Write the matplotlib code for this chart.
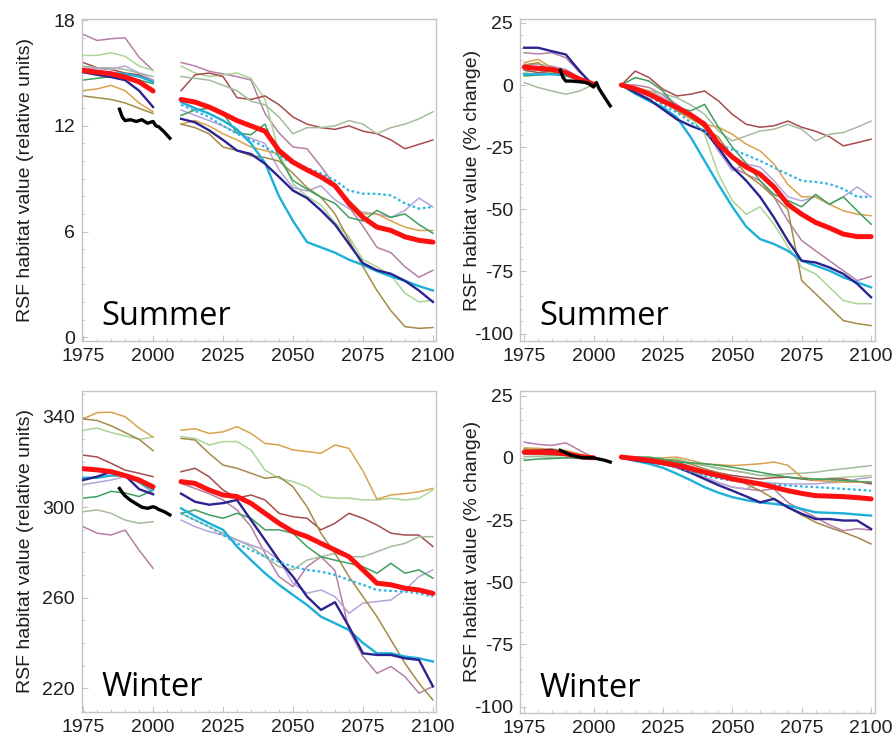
import matplotlib.pyplot as plt
from matplotlib.ticker import MultipleLocator

plt.rcParams["font.family"] = ["Liberation Sans", "DejaVu Sans"]
plt.rcParams["axes.unicode_minus"] = False

hist_years = [1975, 1980, 1985, 1990, 1995, 2000]
fut_years = [2010, 2015, 2020, 2025, 2030, 2035, 2040, 2045, 2050, 2055,
             2060, 2065, 2070, 2075, 2080, 2085, 2090, 2095, 2100]
obs_years = [1988, 1989, 1990, 1992, 1994, 1996, 1998, 2000, 2001, 2002, 2004, 2006]

model_names = ["mauve", "pale", "maroon", "graygreen", "lavender",
               "tan", "olive", "green", "cyan", "navy"]
model_colors = ["#b57fa6", "#a9d596", "#a64c4c", "#a5bb9d", "#b7a3d8",
                "#d9a24e", "#a48a4a", "#3f9f5e", "#1cb0d8", "#2b2390"]
model_widths = [1.1, 1.1, 1.1, 1.1, 1.1, 1.1, 1.1, 1.1, 1.7, 1.7]

# ---- summer, relative units ----
su_hist_mauve = [17.2, 16.85, 16.95, 17.0, 15.9, 15.15]
su_hist_pale = [16.0, 16.0, 16.15, 15.95, 15.4, 15.15]
su_hist_maroon = [15.6, 15.3, 15.2, 15.0, 14.9, 14.6]
su_hist_graygreen = [15.4, 15.3, 15.3, 15.2, 15.0, 14.8]
su_hist_lavender = [15.3, 15.25, 15.2, 15.4, 15.0, 14.6]
su_hist_tan = [14.0, 14.1, 14.3, 14.0, 13.3, 12.8]
su_hist_olive = [13.7, 13.6, 13.5, 13.3, 13.0, 12.7]
su_hist_green = [14.6, 14.7, 14.8, 14.7, 14.6, 14.4]
su_hist_cyan = [15.2, 15.1, 15.0, 14.95, 14.8, 14.5]
su_hist_navy = [15.05, 14.9, 14.77, 14.6, 14.0, 13.07]
su_hist_mean = [15.15, 15.05, 14.96, 14.77, 14.5, 13.98]

su_fut_mauve = [15.6, 15.4, 15.1, 14.95, 14.8, 14.6, 12.7, 11.6, 10.8, 10.7,
                9.7, 8.6, 7.4, 6.3, 5.1, 4.8, 4.0, 3.4, 3.8]
su_fut_pale = [15.4, 15.0, 14.8, 14.9, 15.0, 14.7, 13.5, 10.5, 8.7, 8.0,
               7.5, 6.5, 5.7, 4.4, 4.0, 3.5, 2.5, 2.0, 2.1]
su_fut_maroon = [14.0, 14.9, 15.0, 14.8, 13.6, 13.5, 13.7, 13.2, 12.5, 12.1,
                 11.9, 11.8, 12.0, 11.7, 11.55, 11.2, 10.7, 10.95, 11.2]
su_fut_graygreen = [14.8, 14.7, 14.6, 14.3, 14.0, 13.4, 13.2, 12.5, 11.55, 11.9,
                    11.9, 12.0, 12.3, 12.1, 11.55, 11.9, 12.1, 12.4, 12.8]
su_fut_lavender = [12.9, 12.6, 12.3, 12.0, 11.6, 11.3, 11.0, 9.5, 8.5, 8.3,
                   8.6, 7.8, 7.3, 7.1, 7.0, 6.8, 7.2, 7.9, 7.4]
su_fut_tan = [12.1, 12.3, 12.0, 11.55, 11.2, 10.8, 10.6, 10.4, 9.85, 9.5,
              9.1, 8.7, 7.77, 7.0, 7.0, 6.6, 6.25, 6.06, 6.06]
su_fut_olive = [12.1, 11.9, 11.55, 10.8, 10.6, 10.3, 10.2, 10.0, 9.3, 8.5,
                7.95, 7.0, 5.5, 4.0, 2.65, 1.5, 0.6, 0.5, 0.55]
su_fut_green = [12.6, 12.9, 13.0, 12.7, 11.6, 11.5, 12.1, 10.2, 8.9, 8.4,
                7.95, 7.6, 6.8, 6.6, 7.2, 6.8, 7.0, 6.4, 5.9]
su_fut_cyan = [13.35, 13.0, 12.7, 12.3, 11.8, 11.0, 9.9, 8.0, 6.6, 5.4,
               5.1, 4.8, 4.4, 4.1, 3.75, 3.45, 3.2, 2.9, 2.65]
su_fut_navy = [12.4, 12.2, 11.75, 11.2, 10.6, 10.4, 9.85, 9.1, 8.33, 7.9,
               7.2, 6.4, 5.3, 4.2, 3.8, 3.6, 3.2, 2.65, 2.0]
su_fut_mean = [13.5, 13.35, 13.07, 12.7, 12.3, 12.0, 11.7, 10.6, 9.94, 9.5,
               9.1, 8.6, 7.6, 6.8, 6.25, 6.06, 5.7, 5.5, 5.4]
su_fut_dotted = [13.2, 12.85, 12.5, 12.0, 11.55, 11.2, 10.8, 10.3, 9.85, 9.6,
                 9.3, 8.9, 8.33, 8.15, 8.14, 8.05, 7.6, 7.3, 7.4]
su_obs = [12.95, 12.5, 12.3, 12.35, 12.25, 12.35, 12.15, 12.25, 12.0, 11.95, 11.65, 11.3]

# ---- summer, percent change ----
sp_hist_mauve = [13.0, 12.5, 13.0, 11.0, 5.0, 0.3]
sp_hist_pale = [5.0, 6.0, 4.5, 4.0, 2.0, 0.0]
sp_hist_maroon = [6.0, 5.0, 5.5, 4.0, 2.0, 0.0]
sp_hist_graygreen = [1.0, -1.0, -2.4, -3.7, -2.4, 0.3]
sp_hist_lavender = [8.3, 8.3, 7.6, 6.3, 3.0, 0.3]
sp_hist_tan = [9.0, 10.3, 7.0, 5.6, 2.3, -1.0]
sp_hist_olive = [8.0, 9.0, 5.0, 4.0, 2.0, 0.0]
sp_hist_green = [3.6, 4.0, 4.5, 3.6, 2.0, 0.3]
sp_hist_cyan = [4.3, 4.3, 4.3, 4.0, 2.5, 0.3]
sp_hist_navy = [15.0, 15.0, 13.6, 12.3, 5.6, -0.4]
sp_hist_mean = [7.2, 6.7, 6.3, 5.0, 2.3, 0.3]

sp_fut_mauve = [0, 0, -1, -4, -7.8, -12, -17, -26.5, -33, -35.9,
                -38.5, -45, -54.6, -62.6, -66.7, -70.7, -74.7, -78.7, -77]
sp_fut_pale = [0, -1.5, -3.7, -6, -9, -13, -19.8, -35.9, -46.6, -52,
               -49, -56, -65, -73.4, -76, -81.4, -86.7, -88, -88]
sp_fut_maroon = [0, 5.6, 3, -1.7, -4.4, -3.7, -2.4, -6.4, -11.8, -15.8,
                 -17, -16.4, -14.5, -17, -18.6, -20.8, -24.5, -23.2, -21.8]
sp_fut_graygreen = [0, -1, -2.4, -3.5, -5.1, -8, -11.8, -18.5, -22.5, -20.5,
                    -18.5, -17.8, -15.8, -17.8, -22.5, -19.8, -19.1, -17, -14.5]
sp_fut_lavender = [0, -1.5, -2.4, -5, -7.8, -12, -17, -26.5, -34.5, -31.8,
                   -33, -38.5, -45, -46.6, -45, -48, -45, -41, -45]
sp_fut_tan = [0, -1, -2.4, -5.8, -10.4, -13.7, -15.8, -17, -19.8, -23.8,
              -26.5, -31.8, -40, -45, -45, -48, -50.6, -52, -52.6]
sp_fut_olive = [0, -1.5, -3.7, -6, -10.4, -13, -17, -21, -29, -35.9,
                -40, -45, -50, -78.7, -84, -89.4, -94.8, -96, -96.8]
sp_fut_green = [0, 3, 1.6, -2.4, -9, -10.4, -7.8, -17, -25, -31.5,
                -38.5, -44, -46.5, -49, -44, -48, -45, -50.6, -56]
sp_fut_cyan = [0, -3.5, -6.4, -9, -13, -21, -30.5, -40, -49, -57,
               -62, -64, -66.7, -70.7, -72.7, -74.7, -77.4, -79.4, -81.4]
sp_fut_navy = [0, -3, -5.8, -9.8, -13.8, -16.4, -18.5, -25.2, -33, -38.5,
               -45, -53.3, -62.6, -70.7, -71.4, -73.4, -76, -80, -85.4]
sp_fut_mean = [0, -1.5, -3.7, -6.5, -9, -12, -15.8, -23.7, -29, -33,
               -35.9, -41, -48, -52, -55.3, -57.5, -60, -61, -61]
sp_fut_dotted = [0, -2, -4.4, -8, -11, -15, -18.5, -23.8, -26, -28.1,
                 -30.5, -33.2, -35.9, -38.5, -39, -39.8, -41.8, -45, -45]
sp_obs = [6.0, 3.0, 1.6, 1.6, 1.4, 1.2, 0.8, -0.8, 1.0, -1.5, -5.0, -8.4]

# ---- winter, relative units ----
wu_hist_mauve = [291.4, 288.5, 287.7, 289.9, 281.0, 273.0]
wu_hist_pale = [334.0, 335.0, 333.0, 331.5, 330.0, 331.0]
wu_hist_maroon = [323.0, 322.2, 319.4, 316.4, 315.0, 313.5]
wu_hist_graygreen = [298.0, 298.8, 297.3, 294.3, 292.9, 293.6]
wu_hist_lavender = [310.0, 311.0, 312.0, 313.5, 311.0, 306.0]
wu_hist_tan = [339.0, 341.8, 342.0, 340.0, 335.0, 331.0]
wu_hist_olive = [339.0, 338.3, 336.0, 333.0, 330.0, 325.0]
wu_hist_green = [304.0, 304.7, 307.0, 306.3, 304.7, 307.6]
wu_hist_cyan = [313.0, 313.0, 314.0, 314.0, 311.0, 307.6]
wu_hist_navy = [312.0, 313.5, 315.7, 314.0, 308.0, 305.7]
wu_hist_mean = [317.0, 316.5, 315.7, 314.0, 312.0, 309.0]

wu_fut_mauve = [310.5, 308.3, 306, 303.2, 298.8, 291.4, 279.6, 269.3, 264.9, 273.7,
                278.1, 272, 245.7, 234, 226.6, 229.6, 225.1, 217.8, 220.8]
wu_fut_pale = [331.2, 330.4, 327.5, 329, 329, 325.3, 316.4, 312.8, 311.3, 309,
               304.7, 304, 304, 303.2, 303.2, 303.9, 303.2, 303.9, 307.6]
wu_fut_maroon = [315.7, 317.2, 313.5, 307.6, 304, 305.4, 303.2, 297.3, 295.8, 295.1,
                 290, 292.9, 297.3, 295.1, 292.1, 288.5, 287.7, 287.7, 282.6]
wu_fut_graygreen = [297.3, 294.3, 291.4, 288.5, 285.5, 282.6, 278.1, 273.7, 272.3, 276.6,
                    278.1, 279.6, 278.1, 278.1, 280.3, 282.6, 284, 286.9, 287]
wu_fut_lavender = [294.3, 291.4, 289.2, 287.7, 285.5, 283.3, 281.1, 276.6, 266.4, 262,
                   263.4, 260.5, 253.1, 257.6, 258.3, 259, 263.4, 269.3, 272.3]
wu_fut_tan = [334, 334.7, 332.6, 333.3, 335.6, 332.6, 328.2, 327.5, 325.3, 324.6,
              323.8, 327.5, 326, 316, 303.5, 305.4, 306, 306.8, 308.3]
wu_fut_olive = [330.4, 329.7, 323.8, 318.6, 317.2, 315, 312.8, 313.5, 309, 300.2,
                288.5, 279.6, 269.3, 260.5, 251.6, 241.3, 231, 222.2, 214.8]
wu_fut_green = [297.3, 298.8, 296.6, 295.1, 297.3, 295.1, 290, 290, 288.5, 282.6,
                278.1, 276.6, 275.2, 273.7, 270.8, 275.2, 270.8, 272.3, 268.6]
wu_fut_cyan = [299.5, 296, 292.9, 290, 282.6, 276.6, 270.8, 265.7, 261.2, 256.8,
               251.6, 248.7, 245.7, 240, 235.4, 235.4, 234, 233.2, 231.8]
wu_fut_navy = [306, 302.4, 301.1, 301.8, 303.2, 294.3, 285.5, 276.6, 269.3, 260.5,
               254.6, 258, 247.2, 235.4, 234.7, 234.7, 233.2, 232.5, 220.8]
wu_fut_mean = [311.3, 310.5, 307.6, 305.4, 304.7, 301.7, 297.3, 292.9, 289.2, 287,
               284, 281.1, 278.1, 272.3, 266.4, 265.7, 264.2, 263.4, 261.9]
wu_fut_dotted = [297.3, 294.3, 291.4, 287.7, 284, 281.1, 278.1, 275.9, 273.7, 272.3,
                 271.5, 270.1, 267.8, 265.7, 263.4, 263, 262.7, 261.9, 260.5]
wu_obs = [308.3, 306.5, 305.0, 303.0, 301.5, 300.0, 299.5, 300.2, 299.8, 299.0, 298.0, 296.6]

# ---- winter, percent change ----
wp_hist_mauve = [6.3, 5.4, 5.0, 6.0, 3.0, 0.0]
wp_hist_pale = [1.5, 1.2, 1.0, 0.8, 0.3, 0.0]
wp_hist_maroon = [1.5, 1.5, 1.2, 1.0, 0.5, 0.0]
wp_hist_graygreen = [0.5, 0.5, 0.2, 0.0, -0.3, 0.0]
wp_hist_lavender = [3.0, 2.7, 2.5, 2.2, 1.0, 0.0]
wp_hist_tan = [4.0, 3.8, 3.5, 3.0, 1.5, 0.0]
wp_hist_olive = [3.5, 3.2, 3.0, 2.5, 1.2, 0.0]
wp_hist_green = [-1.0, -0.5, -0.3, 0.0, 0.0, 0.0]
wp_hist_cyan = [2.0, 2.0, 2.0, 1.5, 0.6, 0.0]
wp_hist_navy = [2.3, 2.8, 3.2, 1.6, 0.3, -0.3]
wp_hist_mean = [2.3, 2.3, 2.3, 1.6, 0.5, 0.0]

wp_fut_mauve = [0, -0.5, -1, -2, -3, -5, -7.8, -10, -11.8, -12.5,
                -13.2, -12.5, -17.9, -21, -23.9, -27, -29.3, -28.5, -29]
wp_fut_pale = [0, -0.2, -0.4, -0.8, -0.4, -2, -3.1, -4.5, -5.1, -6,
               -7.1, -7.5, -7.8, -8, -8.5, -8.2, -7.8, -7.5, -7.1]
wp_fut_maroon = [0, -0.2, -0.4, -1, -1.7, -3.5, -5.1, -6, -7.1, -7.8,
                 -8.5, -8, -7.8, -8.5, -9.1, -8.5, -8.5, -9.5, -10.5]
wp_fut_graygreen = [0, -0.2, -0.5, -0.8, -1, -2, -3.1, -4, -5.1, -6,
                    -7.1, -6.8, -6.4, -6.2, -5.8, -5, -4.4, -3.8, -3.1]
wp_fut_lavender = [0, -0.5, -1, -1.8, -2.4, -5, -7.8, -10, -11.8, -12.5,
                   -9.8, -10.2, -10.5, -10.5, -10.5, -10, -9.8, -8.5, -7.8]
wp_fut_tan = [0, -0.3, -0.4, 0, 0.3, -1, -2.4, -2.8, -3.1, -2.8,
              -2.4, -1.7, -3, -7.8, -9.1, -9.5, -9.8, -9.8, -9.8]
wp_fut_olive = [0, -0.3, -0.5, -0.8, -1, -2.5, -4.4, -6, -7.8, -10.5,
                -13.2, -16.5, -19.9, -23, -25.9, -28, -29.9, -32, -34.6]
wp_fut_green = [0, 0.3, 0.3, -0.5, -1.7, -2, -2.4, -3, -3.8, -4.8,
                -5.8, -6.8, -7.8, -8.3, -8.5, -8.8, -9.1, -9.5, -9.8]
wp_fut_cyan = [0, -1.2, -2.4, -4, -6.4, -9, -11.8, -14, -15.8, -17,
               -17.9, -18.5, -19.2, -20.5, -21.9, -22.1, -22.3, -22.8, -23.2]
wp_fut_navy = [0, -1, -1.7, -2.5, -3.8, -6, -8.5, -11, -13.2, -15.5,
               -17.9, -16.5, -19.9, -22.5, -24.6, -24.6, -25.2, -25.2, -28.6]
wp_fut_mean = [0.3, -0.3, -1, -2, -3, -4.4, -5.8, -7.1, -8.5, -9.5,
               -10.5, -11.8, -13.2, -14.3, -15.2, -15.4, -15.6, -16, -16.5]
wp_fut_dotted = [0, -0.5, -1.2, -2.5, -3.8, -5.5, -7.1, -8.3, -9.1, -9.8,
                 -10.5, -10.8, -11.1, -11.5, -11.8, -12.1, -12.5, -12.8, -13.2]
wp_obs = [3.0, 2.5, 2.0, 1.0, 0.5, 0.0, 0.0, 0.0, -0.3, -0.5, -1.0, -1.7]

year_ticks = [1975, 2000, 2025, 2050, 2075, 2100]
su_ticks = [0, 6, 12, 18]
pct_ticks = [-100, -75, -50, -25, 0, 25]
wu_ticks = [220, 260, 300, 340]

UNITS_LABEL = "RSF habitat value (relative units)"
PCT_LABEL = "RSF habitat value (% change)"


def collect(prefix, period):
    g = globals()
    return [g[f"{prefix}_{period}_{name}"] for name in model_names]


def draw_panel(ax, prefix, obs, ylim, yticks, yminor, ylabel, season,
               xlim, label_x):
    hist = collect(prefix, "hist")
    fut = collect(prefix, "fut")
    for h, f, color, lw in zip(hist, fut, model_colors, model_widths):
        z = 3 if lw > 1.5 else 2
        ax.plot(hist_years, h, color=color, lw=lw, zorder=z)
        ax.plot(fut_years, f, color=color, lw=lw, zorder=z)

    g = globals()
    ax.plot(fut_years, g[f"{prefix}_fut_dotted"], color="#2cb6e2", lw=1.6,
            ls=(0, (1.2, 1.2)), zorder=4)
    ax.plot(hist_years, g[f"{prefix}_hist_mean"], color="#ff1010", lw=3.6,
            solid_capstyle="round", zorder=5)
    ax.plot(fut_years, g[f"{prefix}_fut_mean"], color="#ff1010", lw=3.6,
            solid_capstyle="round", zorder=5)
    ax.plot(obs_years, obs, color="black", lw=2.4, zorder=6)

    ax.set_xlim(*xlim)
    ax.set_ylim(*ylim)
    ax.set_xticks(year_ticks)
    ax.set_yticks(yticks)
    ax.xaxis.set_minor_locator(MultipleLocator(5))
    ax.yaxis.set_minor_locator(MultipleLocator(yminor))
    ax.tick_params(which="both", direction="in", color="#c4c4c4",
                   labelsize=14, labelcolor="#1e1e1e")
    ax.tick_params(which="major", length=4)
    ax.tick_params(which="minor", length=2.5)
    ax.tick_params(axis="y", pad=5)
    ax.tick_params(axis="x", pad=5)
    for spine in ax.spines.values():
        spine.set_color("#c4c4c4")
        spine.set_linewidth(1.0)

    ax.set_ylabel(ylabel, fontsize=14, color="#1e1e1e")
    ax.yaxis.set_label_coords(label_x, 0.5)
    ax.text(0.055, 0.05, season, transform=ax.transAxes, fontsize=23.5,
            family=["Open Sans", "DejaVu Sans"], color="black", zorder=7)


fig = plt.figure(figsize=(8.94, 7.37), dpi=100)
ax_su = fig.add_axes([0.0917, 0.537, 0.396, 0.437])
ax_sp = fig.add_axes([0.5817, 0.537, 0.397, 0.437])
ax_wu = fig.add_axes([0.0917, 0.034, 0.396, 0.4356])
ax_wp = fig.add_axes([0.5817, 0.033, 0.397, 0.4370])

draw_panel(ax_su, "su", su_obs, (-0.23, 18.06), su_ticks, 1, UNITS_LABEL,
           "Summer", (1974.6, 2101.1), -0.135)
draw_panel(ax_sp, "sp", sp_obs, (-103.1, 26.5), pct_ticks, 5, PCT_LABEL,
           "Summer", (1973.5, 2101.4), -0.11)
draw_panel(ax_wu, "wu", wu_obs, (209.5, 351.4), wu_ticks, 10, UNITS_LABEL,
           "Winter", (1974.6, 2101.1), -0.135)
draw_panel(ax_wp, "wp", wp_obs, (-102.4, 27.0), pct_ticks, 5, PCT_LABEL,
           "Winter", (1973.5, 2101.4), -0.11)

fig.savefig("out.png", dpi=100)
